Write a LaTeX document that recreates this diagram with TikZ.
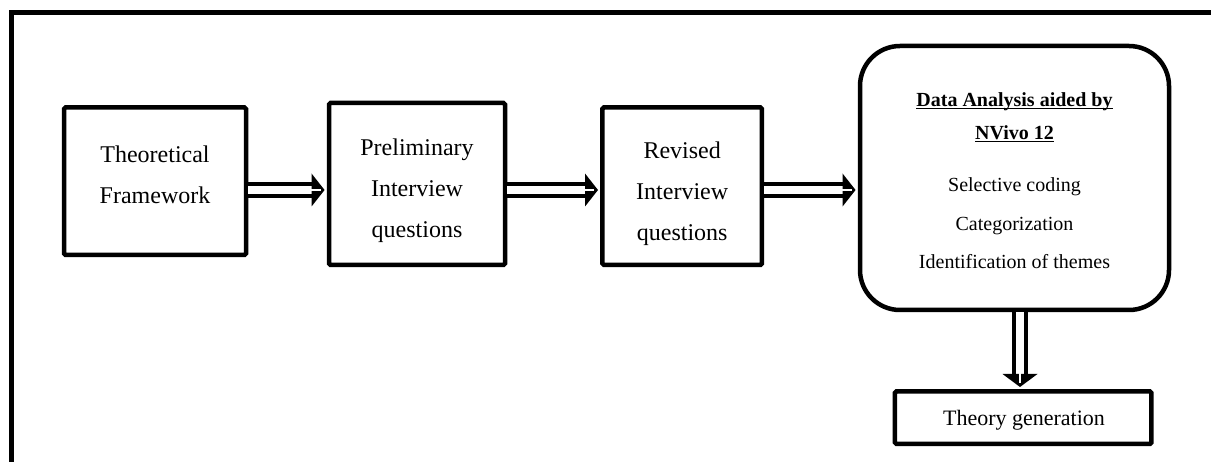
\documentclass[tikz,border=0pt]{standalone}
\usepackage{fontspec}
\setmainfont{Liberation Serif}
\usetikzlibrary{calc}
\newcommand\ulbf[1]{\underline{\smash{\textbf{#1}}}}
\tikzset{
  box/.style={draw, line width=4.5pt, rounded corners=1.5pt, inner sep=0pt},
  txt/.style={inner sep=0pt, align=center},
  bigtext/.style={font=\fontsize{24}{41}\selectfont},
  shaft/.style={line width=4pt, double=white, double distance=7.5pt},
  head/.style={fill=black},
  sliver/.style={draw=white, line width=2.5pt},
  frame/.style={line width=4.5pt}
}
\begin{document}
\begin{tikzpicture}[x=1pt, y=-1pt]
\useasboundingbox (0,0) rectangle (1211,462);
\clip (0,0) rectangle (1211,462);
% outer frame (continues beyond the right and bottom edges)
\draw[frame] (11.3,490) -- (11.3,12.5) -- (1240,12.5);

\node[box, minimum width=182pt, minimum height=147.5pt] (b1) at (155,181.2) {};
\node[txt, bigtext] (t1) at (155,175) {Theoretical\\Framework};
\node[box, minimum width=176pt, minimum height=162pt] (b2) at (417,184) {};
\node[txt, bigtext] (t2) at (417,190.5) {Preliminary\\Interview\\questions};
\node[box, minimum width=159.5pt, minimum height=157.5pt] (b3) at (682.2,186.2) {};
\node[txt, bigtext] (t3) at (682.2,193.5) {Revised\\Interview\\questions};
\node[box, rounded corners=40pt, minimum width=309pt, minimum height=264pt] (b4) at (1014.5,178) {};
\node[txt, font=\fontsize{20}{38.5}\selectfont] (t4) at (1014.5,188)
  {\ulbf{Data Analysis aided by}\\[-5.5pt]\ulbf{NVivo 12}\\[13.5pt]Selective coding\\Categorization\\Identification of themes};
\node[box, minimum width=256.5pt, minimum height=52.5pt] (b5) at (1023.2,417.7) {};
\node[txt, font=\fontsize{22}{26}\selectfont] (t5) at (1024,420.5) {Theory generation};

% arrow row / column
\coordinate (row) at (0,190);
\coordinate (col) at (1020,0);

% b1 -> b2
\coordinate (s1) at (b1.east|-row);
\coordinate (e1) at ($(b2.west|-row)+(-2.2,0)$);
\draw[shaft, shorten >=12pt] (s1) -- (e1);
\fill[head] (e1) -- ++(-13,16.5) -- ++(0,-33) -- cycle;
\draw[sliver] ($(e1)+(-14,0)$) -- ($(e1)+(-4,0)$);

% b2 -> b3
\coordinate (s2) at (b2.east|-row);
\coordinate (e2) at ($(b3.west|-row)+(-2.2,0)$);
\draw[shaft, shorten >=12pt] (s2) -- (e2);
\fill[head] (e2) -- ++(-13,16.5) -- ++(0,-33) -- cycle;
\draw[sliver] ($(e2)+(-14,0)$) -- ($(e2)+(-4,0)$);

% b3 -> b4
\coordinate (s3) at (b3.east|-row);
\coordinate (e3) at ($(b4.west|-row)+(-2.2,0)$);
\draw[shaft, shorten >=12pt] (s3) -- (e3);
\fill[head] (e3) -- ++(-13,16.5) -- ++(0,-33) -- cycle;
\draw[sliver] ($(e3)+(-14,0)$) -- ($(e3)+(-4,0)$);

% b4 -> b5
\coordinate (s4) at (b4.south-|col);
\coordinate (e4) at ($(b5.north-|col)+(0,-2.2)$);
\draw[shaft, shorten >=12pt] (s4) -- (e4);
\fill[head] (e4) -- ++(-17.5,-13) -- ++(35,0) -- cycle;
\draw[sliver] ($(e4)+(0,-14)$) -- ($(e4)+(0,-4)$);
\end{tikzpicture}
\end{document}
